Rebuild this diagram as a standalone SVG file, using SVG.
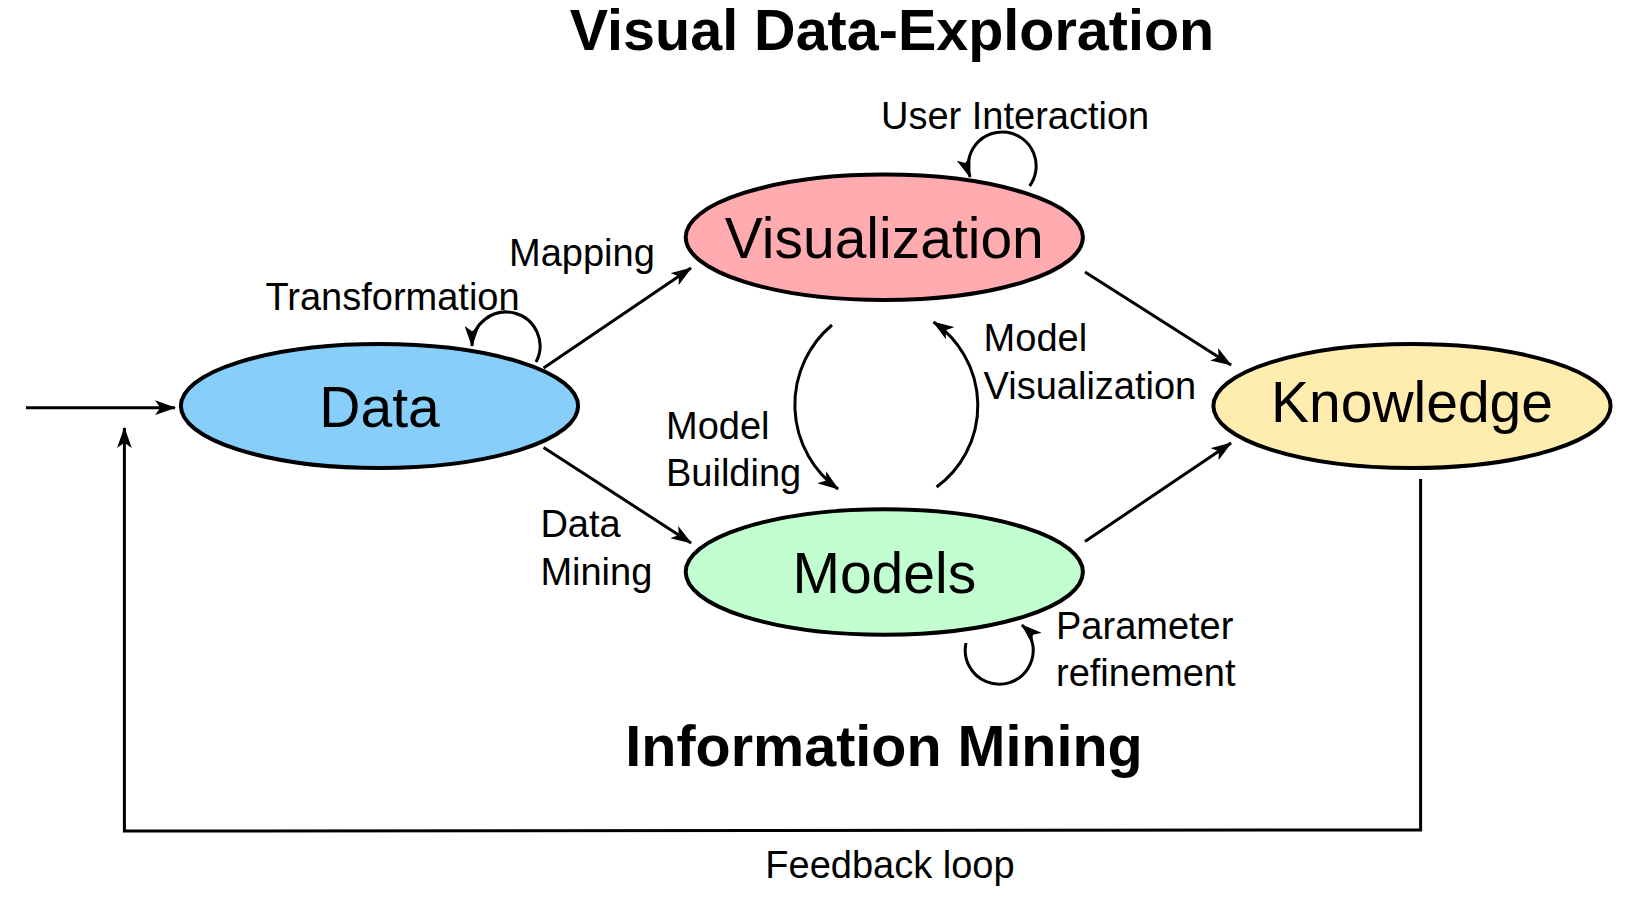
<svg xmlns="http://www.w3.org/2000/svg" width="1639" height="906" viewBox="0 0 1639 906">
<style>
.node{stroke:#000;stroke-width:4}
.nt{font-family:"Liberation Sans",Arial,sans-serif;font-size:57px;text-anchor:middle;fill:#000}
.lb{font-family:"Liberation Sans",Arial,sans-serif;font-size:38px;fill:#000}
.tt{font-family:"Liberation Sans",Arial,sans-serif;font-size:57.5px;font-weight:bold;text-anchor:middle;fill:#000}
.c{fill:none;stroke:#000;stroke-width:3}
</style>
<defs>
<marker id="ah" viewBox="0 0 20 14" refX="19" refY="7" markerWidth="21" markerHeight="15" markerUnits="userSpaceOnUse" orient="auto">
<path d="M0,0 L20,7 L0,14 L5,7 z" fill="#000"/>
</marker>
</defs>
<rect width="1639" height="906" fill="#fff"/>
<text class="tt" x="892" y="50">Visual Data-Exploration</text>
<text class="tt" x="884" y="766">Information Mining</text>
<g id="connectors">
<path class="c" d="M26,407.7 L175,407.7" marker-end="url(#ah)"/>
<path class="c" d="M1420.6,479 L1420.6,830 L124.4,831 L124.4,428" marker-end="url(#ah)"/>
<path class="c" d="M543.6,368 L691,268" marker-end="url(#ah)"/>
<path class="c" d="M543.6,447.4 L691,543" marker-end="url(#ah)"/>
<path class="c" d="M1085,272 L1231,365" marker-end="url(#ah)"/>
<path class="c" d="M1085,541.5 L1231,443" marker-end="url(#ah)"/>
<path class="c" d="M832,325 A104,104 0 0,0 838,489" marker-end="url(#ah)"/>
<path class="c" d="M936.6,487 A101,101 0 0,0 933.5,322" marker-end="url(#ah)"/>
<path class="c" d="M536,362 A34,34 0 1,0 472,346" marker-end="url(#ah)"/>
<path class="c" d="M1029.6,186 A34,34 0 1,0 970,177" marker-end="url(#ah)"/>
<path class="c" d="M966,643 A34,34 0 1,0 1022,625" marker-end="url(#ah)"/>
</g>
<g id="data">
<ellipse class="node" cx="379.5" cy="406" rx="198.6" ry="62" fill="#87CEFA"/>
<text class="nt" x="379.5" y="427">Data</text>
</g>
<g id="visualization">
<ellipse class="node" cx="884.3" cy="237.3" rx="198.6" ry="62.7" fill="#FFABB0"/>
<text class="nt" x="884.3" y="258">Visualization</text>
</g>
<g id="models">
<ellipse class="node" cx="884.3" cy="572" rx="198.6" ry="62.7" fill="#C2FFD0"/>
<text class="nt" x="884.3" y="592.5">Models</text>
</g>
<g id="knowledge">
<ellipse class="node" cx="1412" cy="406" rx="198.6" ry="62" fill="#FFEDAF"/>
<text class="nt" x="1412" y="422">Knowledge</text>
</g>
<g id="labels">
<text class="lb" x="881" y="128.5">User Interaction</text>
<text class="lb" x="509" y="265.5">Mapping</text>
<text class="lb" x="265.5" y="310">Transformation</text>
<text class="lb" x="666" y="439">Model</text>
<text class="lb" x="666" y="486">Building</text>
<text class="lb" x="983.6" y="351">Model</text>
<text class="lb" x="983.6" y="399">Visualization</text>
<text class="lb" x="540.4" y="537">Data</text>
<text class="lb" x="540.4" y="585">Mining</text>
<text class="lb" x="1056" y="638.5">Parameter</text>
<text class="lb" x="1056" y="686">refinement</text>
<text class="lb" x="890" y="878" text-anchor="middle">Feedback loop</text>
</g>
</svg>
